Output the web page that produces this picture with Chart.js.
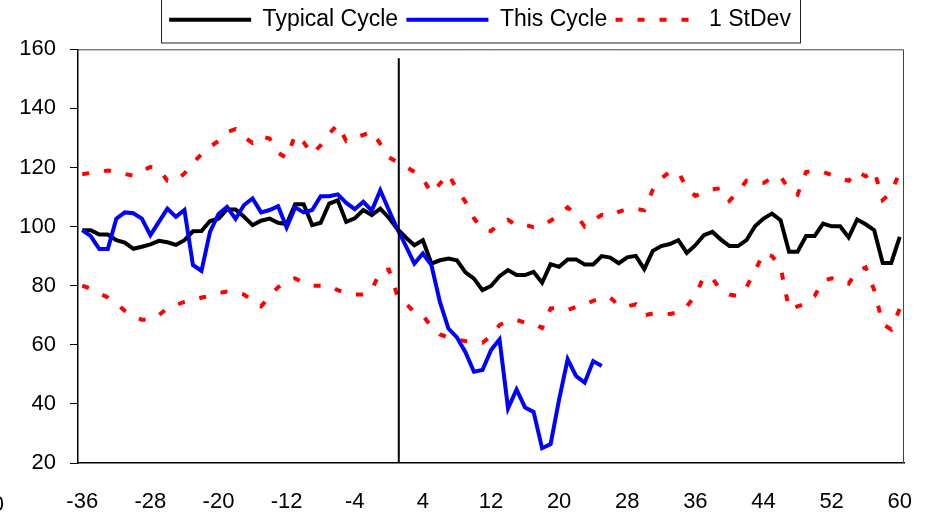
<!DOCTYPE html>
<html>
<head>
<meta charset="utf-8">
<script src="https://cdn.jsdelivr.net/npm/chart.js@4.4.1/dist/chart.umd.min.js"></script>
<style>
    html, body { margin: 0; padding: 0; background: #fff; overflow: hidden; }
    #wrap { width: 928px; height: 516px; }
</style>
</head>
<body>
<div id="wrap"><canvas id="chart"></canvas></div>
<script>
// weeks relative to the cycle turn
const weeks = [];
for (let w = -36; w <= 60; w++) weeks.push(w);

const xTicks = [-36, -28, -20, -12, -4, 4, 12, 20, 28, 36, 44, 52, 60];

// weeks -36 .. 60
const typicalCycle = [
    98.8, 98.8, 97.3, 97.3, 95.4, 94.6, 92.5, 93.2, 94.0, 95.2,
    94.7, 93.8, 95.4, 98.4, 98.5, 101.9, 102.7, 105.8, 105.8, 103.3,
    100.5, 102.0, 102.7, 101.3, 100.9, 107.6, 107.6, 100.5, 101.3, 107.8,
    108.9, 101.6, 102.8, 105.6, 103.9, 106.1, 103.0, 99.2, 96.3, 93.7,
    95.4, 87.5, 88.6, 89.2, 88.6, 84.5, 82.4, 78.5, 79.9, 83.2,
    85.3, 83.6, 83.6, 84.7, 81.0, 87.3, 86.4, 88.9, 88.9, 87.2,
    87.2, 90.0, 89.5, 87.6, 89.6, 90.1, 85.6, 91.8, 93.4, 94.1,
    95.4, 91.1, 93.7, 97.1, 98.2, 95.6, 93.4, 93.4, 95.4, 100.1,
    102.7, 104.4, 102.2, 91.5, 91.5, 96.8, 96.8, 101.0, 100.1, 100.1,
    96.3, 102.4, 100.8, 98.8, 87.7, 87.7, 96.5
];

// weeks -36 .. 25
const thisCycle = [
    98.8, 96.8, 92.4, 92.4, 102.7, 104.8, 104.5, 102.7, 97.1, 101.6,
    106.1, 103.3, 105.6, 87.0, 85.0, 98.2, 104.3, 106.7, 102.6, 107.3,
    109.5, 104.8, 105.6, 106.9, 99.7, 106.5, 104.8, 105.6, 110.3, 110.3,
    110.9, 108.0, 105.9, 108.4, 105.4, 112.3, 105.6, 99.2, 93.5, 87.5,
    90.9, 87.0, 74.5, 65.5, 62.5, 57.5, 50.9, 51.5, 58.2, 61.8,
    38.5, 44.9, 38.8, 37.3, 25.0, 26.4, 41.5, 55.1, 49.4, 47.2,
    54.5, 52.8
];

// weeks -36 .. 60
const stdevUpper = [
    117.7, 118.2, 118.5, 119.0, 118.5, 117.8, 117.2, 118.7, 120.2, 119.5,
    115.5, 115.5, 118.0, 121.5, 124.5, 127.0, 129.0, 132.0, 133.0, 130.3,
    128.3, 130.5, 129.8, 125.0, 123.2, 131.0, 128.5, 124.5, 127.5, 131.5,
    134.5, 129.0, 130.3, 131.0, 132.3, 128.0, 123.5, 121.8, 120.3, 118.5,
    116.3, 111.3, 114.5, 117.8, 112.5, 108.4, 102.8, 99.0, 98.5, 101.0,
    102.3, 100.3, 100.6, 99.8, 100.3, 102.0, 104.0, 106.5, 104.0, 100.0,
    102.0, 104.0, 103.5, 105.0, 106.0, 106.0, 105.5, 112.5, 116.3, 118.5,
    118.5, 113.0, 110.4, 111.5, 112.6, 113.0, 108.7, 111.8, 115.5, 115.0,
    114.8, 116.5, 117.0, 112.5, 110.8, 118.5, 119.0, 118.5, 117.5, 116.3,
    115.5, 118.7, 117.0, 119.0, 109.0, 111.5, 118.5
];

// weeks -36 .. 60
const stdevLower = [
    80.0, 79.0, 77.5, 76.0, 74.0, 71.5, 69.5, 68.5, 68.5, 70.0,
    72.5, 73.5, 74.5, 75.0, 76.0, 76.5, 77.5, 78.0, 78.0, 77.0,
    75.0, 73.0, 76.5, 79.5, 81.5, 82.5, 81.0, 80.0, 80.0, 80.0,
    78.5, 77.5, 77.0, 77.0, 78.5, 85.0, 85.5, 76.7, 74.0, 71.0,
    70.0, 66.0, 63.5, 62.5, 61.7, 61.3, 61.0, 60.7, 63.0, 66.7,
    68.0, 68.4, 67.5, 67.3, 65.7, 72.3, 72.5, 71.8, 72.9, 73.5,
    74.9, 75.8, 76.0, 73.3, 73.0, 73.7, 70.0, 70.6, 70.5, 70.4,
    71.0, 73.0, 76.8, 83.0, 82.5, 78.5, 77.0, 76.5, 79.5, 85.0,
    91.0, 90.0, 86.4, 72.0, 73.0, 74.0, 76.5, 81.7, 82.5, 82.0,
    80.7, 85.0, 86.2, 78.5, 67.0, 65.2, 72.3
];

// vertical marker at the turn, in data units
const markerWeek = 1.17;
const markerSpan = [20, 157];

const FONT = "'Liberation Sans', Arial, sans-serif";
const DASH = [7, 15];

// frame round the plot and round the legend, plus the clipped label at the far left
const framePlugin = {
    id: 'frame',
    beforeLayout(chart) {
        const lg = chart.legend;
        if (lg && !lg._tall) {
            const fit = lg.fit.bind(lg);
            lg.fit = function () { fit(); this.height += 8; };
            lg._tall = true;
        }
    },
    afterLayout(chart) {
        const lg = chart.legend;
        lg.left += 18;
        lg.right += 18;
    },
    afterDraw(chart) {
        const { ctx, chartArea: a, legend: lg } = chart;
        ctx.save();
        ctx.strokeStyle = '#444';
        ctx.lineWidth = 1;
        ctx.beginPath();
        ctx.moveTo(a.left, a.top + 0.5);
        ctx.lineTo(a.right - 0.5, a.top + 0.5);
        ctx.lineTo(a.right - 0.5, a.bottom);
        ctx.stroke();

        const pad = lg.options.labels.padding;
        const itemsLeft = (lg.left + pad + lg.right - lg.lineWidths[0]) / 2;
        const itemsRight = itemsLeft + lg.lineWidths[0] - pad;
        ctx.strokeStyle = '#222';
        ctx.strokeRect(Math.round(itemsLeft - 8) + 0.5, -1.5, Math.round(itemsRight - itemsLeft + 17), 44.5);

        ctx.fillStyle = '#000';
        ctx.font = '22px ' + FONT;
        ctx.textAlign = 'right';
        ctx.textBaseline = 'middle';
        ctx.fillText('0', 4, 505);
        ctx.restore();
    }
};

new Chart(document.getElementById('chart'), {
    type: 'line',
    data: {
        labels: weeks,
        datasets: [
            {
                label: 'Typical Cycle',
                data: typicalCycle,
                borderColor: '#000000',
                backgroundColor: '#000000',
                borderWidth: 4,
                order: 2,
            },
            {
                label: 'This Cycle',
                data: thisCycle,
                borderColor: '#0000ff',
                backgroundColor: '#0000ff',
                borderWidth: 4,
                order: 1,
            },
            {
                label: '1 StDev',
                data: stdevUpper,
                borderColor: '#ff0000',
                backgroundColor: '#ff0000',
                borderWidth: 4,
                borderDash: DASH,
                order: 3,
            },
            {
                label: '1 StDev lower',
                data: stdevLower,
                borderColor: '#ff0000',
                backgroundColor: '#ff0000',
                borderWidth: 4,
                borderDash: DASH,
                order: 3,
            },
            {
                label: 'turn',
                data: markerSpan.map(v => ({ x: markerWeek, y: v })),
                borderColor: '#000000',
                borderWidth: 2,
                order: 0,
            },
        ],
    },
    options: {
        responsive: true,
        maintainAspectRatio: false,
        animation: false,
        layout: { padding: { left: 20, right: 24, top: 0, bottom: 3 } },
        elements: {
            point: { radius: 0, hoverRadius: 0 },
            line: { tension: 0, borderJoinStyle: 'miter' },
        },
        plugins: {
            tooltip: { enabled: false },
            legend: {
                position: 'top',
                labels: {
                    filter: item => item.datasetIndex < 3,
                    sort: (a, b) => a.datasetIndex - b.datasetIndex,
                    generateLabels: chart => {
                        const items = Chart.defaults.plugins.legend.labels.generateLabels(chart);
                        items.forEach(it => {
                            const ds = chart.data.datasets[it.datasetIndex];
                            it.lineDash = ds.borderDash || [];
                            it.lineWidth = 4;
                        });
                        return items;
                    },
                    usePointStyle: true,
                    pointStyle: 'line',
                    pointStyleWidth: 82,
                    padding: 8.3,
                    color: '#000',
                    font: { family: FONT, size: 23 },
                },
            },
        },
        scales: {
            x: {
                type: 'linear',
                min: -36.5,
                max: 60.5,
                afterBuildTicks: scale => {
                    scale.ticks = xTicks.map(v => ({ value: v }));
                },
                afterFit: scale => {
                    scale.height = 50;
                    scale.paddingLeft = 0;
                    scale.paddingRight = 0;
                },
                grid: { display: false },
                border: { color: '#000', width: 1.5 },
                ticks: {
                    color: '#000',
                    padding: 18,
                    maxRotation: 0,
                    autoSkip: false,
                    font: { family: FONT, size: 22 },
                },
            },
            y: {
                min: 20,
                max: 160,
                afterFit: scale => { scale.width = 58; },
                grid: {
                    drawOnChartArea: false,
                    drawTicks: true,
                    tickLength: 8,
                    color: '#000',
                },
                border: { color: '#000', width: 1.5 },
                ticks: {
                    stepSize: 20,
                    color: '#000',
                    padding: 14,
                    font: { family: FONT, size: 22 },
                },
            },
        },
    },
    plugins: [framePlugin],
});
</script>
</body>
</html>
